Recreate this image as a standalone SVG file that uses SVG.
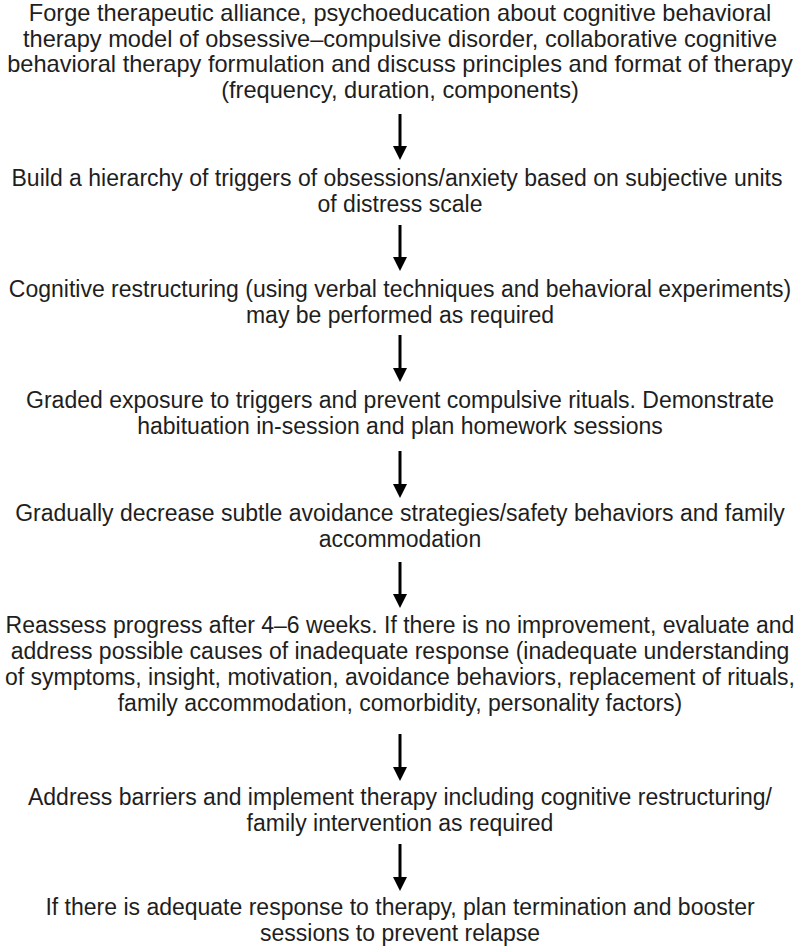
<svg xmlns="http://www.w3.org/2000/svg" width="800" height="946" viewBox="0 0 800 946">
<style>
text{font-family:"Liberation Sans",Arial,sans-serif;font-size:23px;fill:#1e1e1e;text-anchor:middle}
#n1 text{font-size:23.6px}
.c{stroke:#000;stroke-width:3;fill:none}
</style>
<defs>
<marker id="ah" markerUnits="userSpaceOnUse" markerWidth="15" markerHeight="14" refX="10" refY="7" orient="auto">
<path d="M0,0 L14,7 L0,14 z" fill="#000"/>
</marker>
</defs>
<rect width="800" height="946" fill="#fff"/>
<g id="n1">
<text x="400" y="21">Forge therapeutic alliance, psychoeducation about cognitive behavioral</text>
<text x="400" y="46.5">therapy model of obsessive–compulsive disorder, collaborative cognitive</text>
<text x="400" y="72">behavioral therapy formulation and discuss principles and format of therapy</text>
<text x="400" y="97.5">(frequency, duration, components)</text>
</g>
<g id="n2">
<text x="397" y="186">Build a hierarchy of triggers of obsessions/anxiety based on subjective units</text>
<text x="400" y="212">of distress scale</text>
</g>
<g id="n3">
<text x="400" y="297">Cognitive restructuring (using verbal techniques and behavioral experiments)</text>
<text x="400" y="323">may be performed as required</text>
</g>
<g id="n4">
<text x="400" y="408">Graded exposure to triggers and prevent compulsive rituals. Demonstrate</text>
<text x="400" y="434">habituation in-session and plan homework sessions</text>
</g>
<g id="n5">
<text x="400" y="521">Gradually decrease subtle avoidance strategies/safety behaviors and family</text>
<text x="400" y="547">accommodation</text>
</g>
<g id="n6">
<text x="400" y="633">Reassess progress after 4–6 weeks. If there is no improvement, evaluate and</text>
<text x="400" y="659">address possible causes of inadequate response (inadequate understanding</text>
<text x="400" y="685">of symptoms, insight, motivation, avoidance behaviors, replacement of rituals,</text>
<text x="400" y="711">family accommodation, comorbidity, personality factors)</text>
</g>
<g id="n7">
<text x="400" y="805">Address barriers and implement therapy including cognitive restructuring/</text>
<text x="400" y="831">family intervention as required</text>
</g>
<g id="n8">
<text x="400" y="915">If there is adequate response to therapy, plan termination and booster</text>
<text x="400" y="941">sessions to prevent relapse</text>
</g>
<g id="connectors">
<line class="c" x1="400" y1="114" x2="400" y2="156" marker-end="url(#ah)"/>
<line class="c" x1="400" y1="225" x2="400" y2="267" marker-end="url(#ah)"/>
<line class="c" x1="400" y1="335" x2="400" y2="378" marker-end="url(#ah)"/>
<line class="c" x1="400" y1="451" x2="400" y2="494" marker-end="url(#ah)"/>
<line class="c" x1="400" y1="562" x2="400" y2="604" marker-end="url(#ah)"/>
<line class="c" x1="400" y1="734" x2="400" y2="777" marker-end="url(#ah)"/>
<line class="c" x1="400" y1="844" x2="400" y2="887" marker-end="url(#ah)"/>
</g>
</svg>
